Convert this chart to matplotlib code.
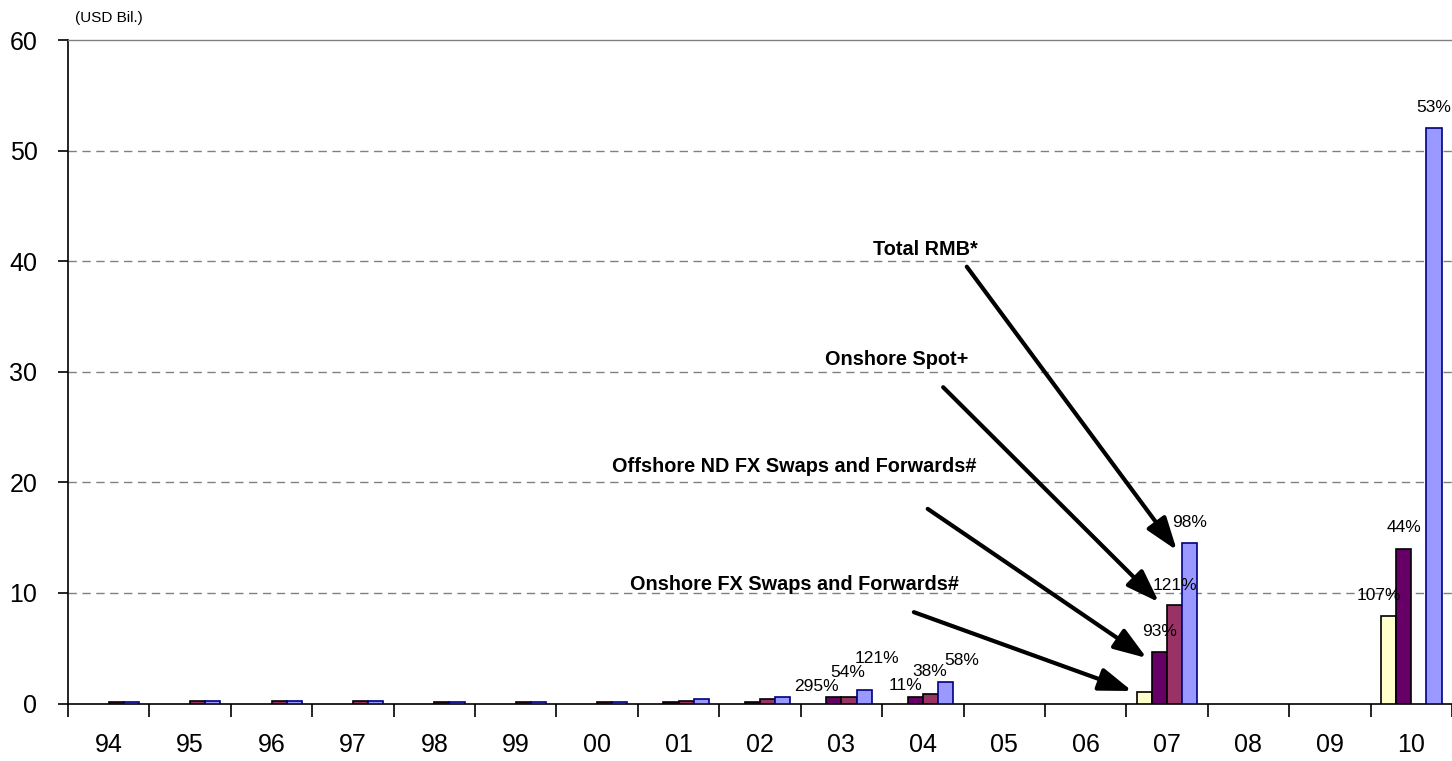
import numpy as np
import matplotlib
matplotlib.use("Agg")
import matplotlib.pyplot as plt

plt.rcParams['font.family'] = ['Liberation Sans', 'DejaVu Sans']

# Daily turnover, USD billions
years = ["94", "95", "96", "97", "98", "99", "00", "01", "02", "03",
         "04", "05", "06", "07", "08", "09", "10"]
onshore_fx_swaps = [np.nan] * 13 + [1.0, np.nan, np.nan, 7.9]
offshore_nd_swaps = [np.nan] * 7 + [0.15, 0.15, 0.55, 0.62, np.nan, np.nan,
                                    4.7, np.nan, np.nan, 14.0]
onshore_spot = [0.15, 0.27, 0.27, 0.27, 0.17, 0.17, 0.17, 0.27, 0.40, 0.55,
                0.83, np.nan, np.nan, 8.9, np.nan, np.nan, np.nan]
total_rmb = [0.15, 0.27, 0.27, 0.27, 0.17, 0.17, 0.17, 0.42, 0.55, 1.2,
             1.97, np.nan, np.nan, 14.5, np.nan, np.nan, 52.0]

series_names = ["Onshore FX Swaps and Forwards#",
                "Offshore ND FX Swaps and Forwards#",
                "Onshore Spot+",
                "Total RMB*"]
series_values = [onshore_fx_swaps, offshore_nd_swaps, onshore_spot, total_rmb]
fill_colors = ["#FFFFCC", "#660066", "#993366", "#9999FF"]
edge_colors = ["#000000", "#000000", "#000000", "#000080"]

# growth labels: (series index, year, text, dx px, dy px)
growth_labels = [
    (1, "03", "295%", -17, 11), (2, "03", "54%", -1, 25), (3, "03", "121%", 13, 32),
    (1, "04", "11%", -10, 11), (2, "04", "38%", -1, 23), (3, "04", "58%", 16, 21),
    (1, "07", "93%", 0, 20), (2, "07", "121%", 0, 20), (3, "07", "98%", 0, 21),
    (0, "10", "107%", -10, 21), (1, "10", "44%", 0, 21), (3, "10", "53%", 0, 21),
]

# callouts: text, text position, arrow start, arrow tip (data units)
callouts = [
    ("Total RMB*", (10.03, 41.1), (10.54, 39.5), (13.12, 13.85)),
    ("Onshore Spot+", (9.68, 31.1), (10.25, 28.6), (12.90, 9.16)),
    ("Offshore ND FX Swaps and Forwards#", (8.42, 21.4), (10.06, 17.6), (12.75, 4.11)),
    ("Onshore FX Swaps and Forwards#", (8.42, 10.8), (9.89, 8.26), (12.57, 1.13)),
]

W, H, DPI = 1452, 761, 100
fig = plt.figure(figsize=(W / DPI, H / DPI), dpi=DPI)
ax = fig.add_axes([68 / W, (H - 703.5) / H, 1 - 68 / W, (703.5 - 40) / H])

x = np.arange(len(years))
bw = 0.186
offsets = (np.arange(4) - 1.5) * bw
for vals, off, fc, ec, name in zip(series_values, offsets, fill_colors,
                                   edge_colors, series_names):
    ax.bar(x + off, vals, width=bw, color=fc, edgecolor=ec, linewidth=1.2,
           label=name, zorder=3)

for si, yr, txt, dx, dy in growth_labels:
    i = years.index(yr)
    ax.annotate(txt, xy=(i + offsets[si], series_values[si][i]),
                xytext=(dx * 0.72, dy * 0.72), textcoords="offset points",
                ha="center", va="center", fontsize=12.5, color="#000000",
                zorder=5)

for txt, tpos, start, tip in callouts:
    ax.text(tpos[0], tpos[1], txt, ha="center", va="center", fontsize=14.3,
            fontweight="bold", zorder=6)
    ax.annotate("", xy=tip, xytext=start,
                arrowprops=dict(arrowstyle="-|>,head_length=1.0,head_width=0.35",
                                lw=3, color="black", shrinkA=0, shrinkB=0,
                                mutation_scale=20),
                zorder=6)

ax.set_xlim(-0.5, len(years) - 0.5)
ax.set_ylim(0, 60)
ax.set_yticks(np.arange(0, 61, 10))
ax.set_xticks(x)
ax.set_xticklabels(years)
ax.set_xticks(np.arange(-0.5, len(years)), minor=True)
ax.tick_params(axis="x", which="major", length=0, pad=21, labelsize=18)
ax.tick_params(axis="x", which="minor", length=9, width=1.2, direction="out",
               color="black")
ax.tick_params(axis="y", which="major", length=7, width=1.2, direction="out",
               pad=15, labelsize=18)

for yv in range(10, 60, 10):
    ax.axhline(yv, color="#808080", lw=1, ls=(0, (6, 4)), zorder=1)

ax.spines["top"].set_color("#808080")
ax.spines["top"].set_linewidth(1)
ax.spines["right"].set_visible(False)
ax.spines["left"].set_color("black")
ax.spines["left"].set_linewidth(1.2)
ax.spines["bottom"].set_color("black")
ax.spines["bottom"].set_linewidth(1.2)

fig.text(75 / W, 1 - 18 / H, "(USD Bil.)", fontsize=11, ha="left", va="center")

fig.savefig("out.png", dpi=DPI)
